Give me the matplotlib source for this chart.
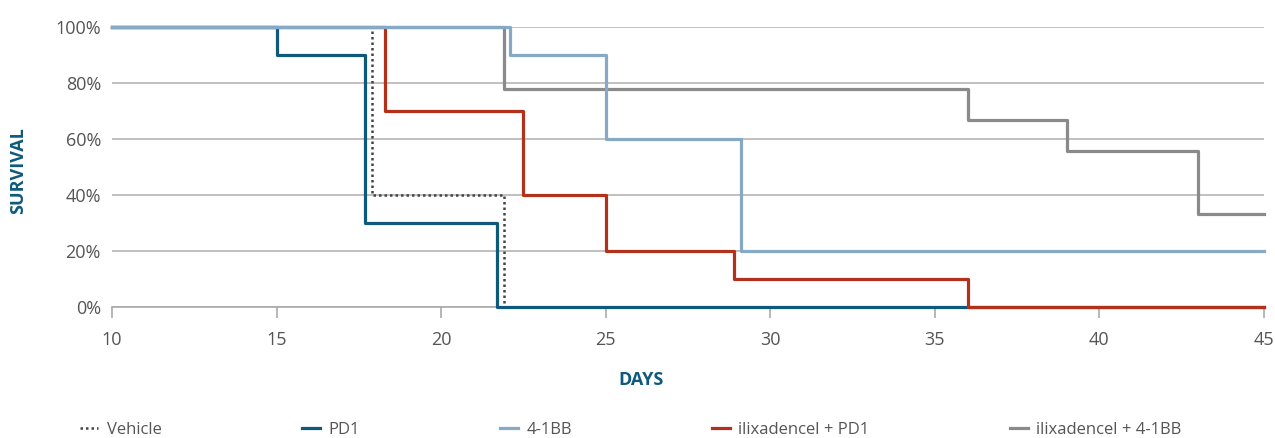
import matplotlib
matplotlib.use("Agg")
import matplotlib.pyplot as plt
from matplotlib.ticker import FuncFormatter

plt.rcParams['font.family'] = ['Open Sans', 'DejaVu Sans']

# Data (days, survival %)
vehicle_t = [10, 17.9, 21.9, 45]
vehicle_s = [100, 40, 0, 0]
pd1_t = [10, 15, 17.7, 21.7, 45]
pd1_s = [100, 90, 30, 0, 0]
bb_t = [10, 22.1, 25, 29.1, 45]
bb_s = [100, 90, 60, 20, 20]
ilx_pd1_t = [10, 18.3, 22.5, 25, 28.9, 36, 45]
ilx_pd1_s = [100, 70, 40, 20, 10, 0, 0]
ilx_bb_t = [10, 21.9, 36, 39, 43, 45]
ilx_bb_s = [100, 77.8, 66.7, 55.6, 33.3, 33.3]

labels = ['Vehicle', 'PD1', '4-1BB', 'ilixadencel + PD1', 'ilixadencel + 4-1BB']
x_ticks = [10, 15, 20, 25, 30, 35, 40, 45]
y_ticks = [0, 20, 40, 60, 80, 100]

c_vehicle = '#444444'
c_pd1 = '#0f5a7c'
c_bb = '#86aac6'
c_ilx_pd1 = '#b3301b'
c_ilx_bb = '#8a8a8a'
c_text = '#555555'
c_title = '#0f5a7c'

fig = plt.figure(figsize=(12.75, 4.38), dpi=100)
ax = fig.add_axes([112/1275, (438-307)/438, (1264-112)/1275, 280/438])

lw = 2.3
h_vehicle, = ax.step(vehicle_t, vehicle_s, where='post', color=c_vehicle, lw=1.8,
                     linestyle=(0, (1, 1.2)), zorder=2, clip_on=False)
h_pd1, = ax.step(pd1_t, pd1_s, where='post', color=c_pd1, lw=lw, zorder=3, clip_on=False)
h_ilx_pd1, = ax.step(ilx_pd1_t, ilx_pd1_s, where='post', color=c_ilx_pd1, lw=lw, zorder=4, clip_on=False)
h_ilx_bb, = ax.step(ilx_bb_t, ilx_bb_s, where='post', color=c_ilx_bb, lw=lw, zorder=5, clip_on=False)
h_bb, = ax.step(bb_t, bb_s, where='post', color=c_bb, lw=lw, zorder=6, clip_on=False)

ax.set_xlim(10, 45)
ax.set_ylim(0, 100)
ax.set_xticks(x_ticks)
ax.set_yticks(y_ticks)
ax.yaxis.set_major_formatter(FuncFormatter(lambda v, p: f"{int(v)}%"))
ax.grid(axis='y', color='#b5b5b5', lw=1.2, zorder=0)
ax.set_axisbelow(True)
for s in ['top', 'right', 'left']:
    ax.spines[s].set_visible(False)
ax.spines['bottom'].set_color('#aaaaaa')
ax.spines['bottom'].set_linewidth(1.2)
ax.tick_params(axis='y', length=0, pad=8, labelsize=13, labelcolor=c_text)
ax.tick_params(axis='x', length=8, width=1.2, color='#aaaaaa', pad=9,
               labelsize=13, labelcolor=c_text)

ax.set_xlabel('DAYS', fontsize=13, fontweight='bold', color=c_title)
ax.xaxis.set_label_coords((641-112)/1152, -(380-307)/280)
ax.xaxis.label.set_va('center')
ax.set_ylabel('SURVIVAL', fontsize=13, fontweight='bold', color=c_title)
ax.yaxis.set_label_coords(-(112-18)/1152, (307-171)/280)
ax.yaxis.label.set_va('center')

handles = [h_vehicle, h_pd1, h_bb, h_ilx_pd1, h_ilx_bb]
leg = fig.legend(handles, labels, loc='center left', bbox_to_anchor=(65/1275, 1 - 430/438),
                 ncol=5, frameon=False, fontsize=12, handlelength=1.1, handletextpad=0.5,
                 columnspacing=8.4, labelcolor=c_text)

fig.savefig('out.png', dpi=100)
